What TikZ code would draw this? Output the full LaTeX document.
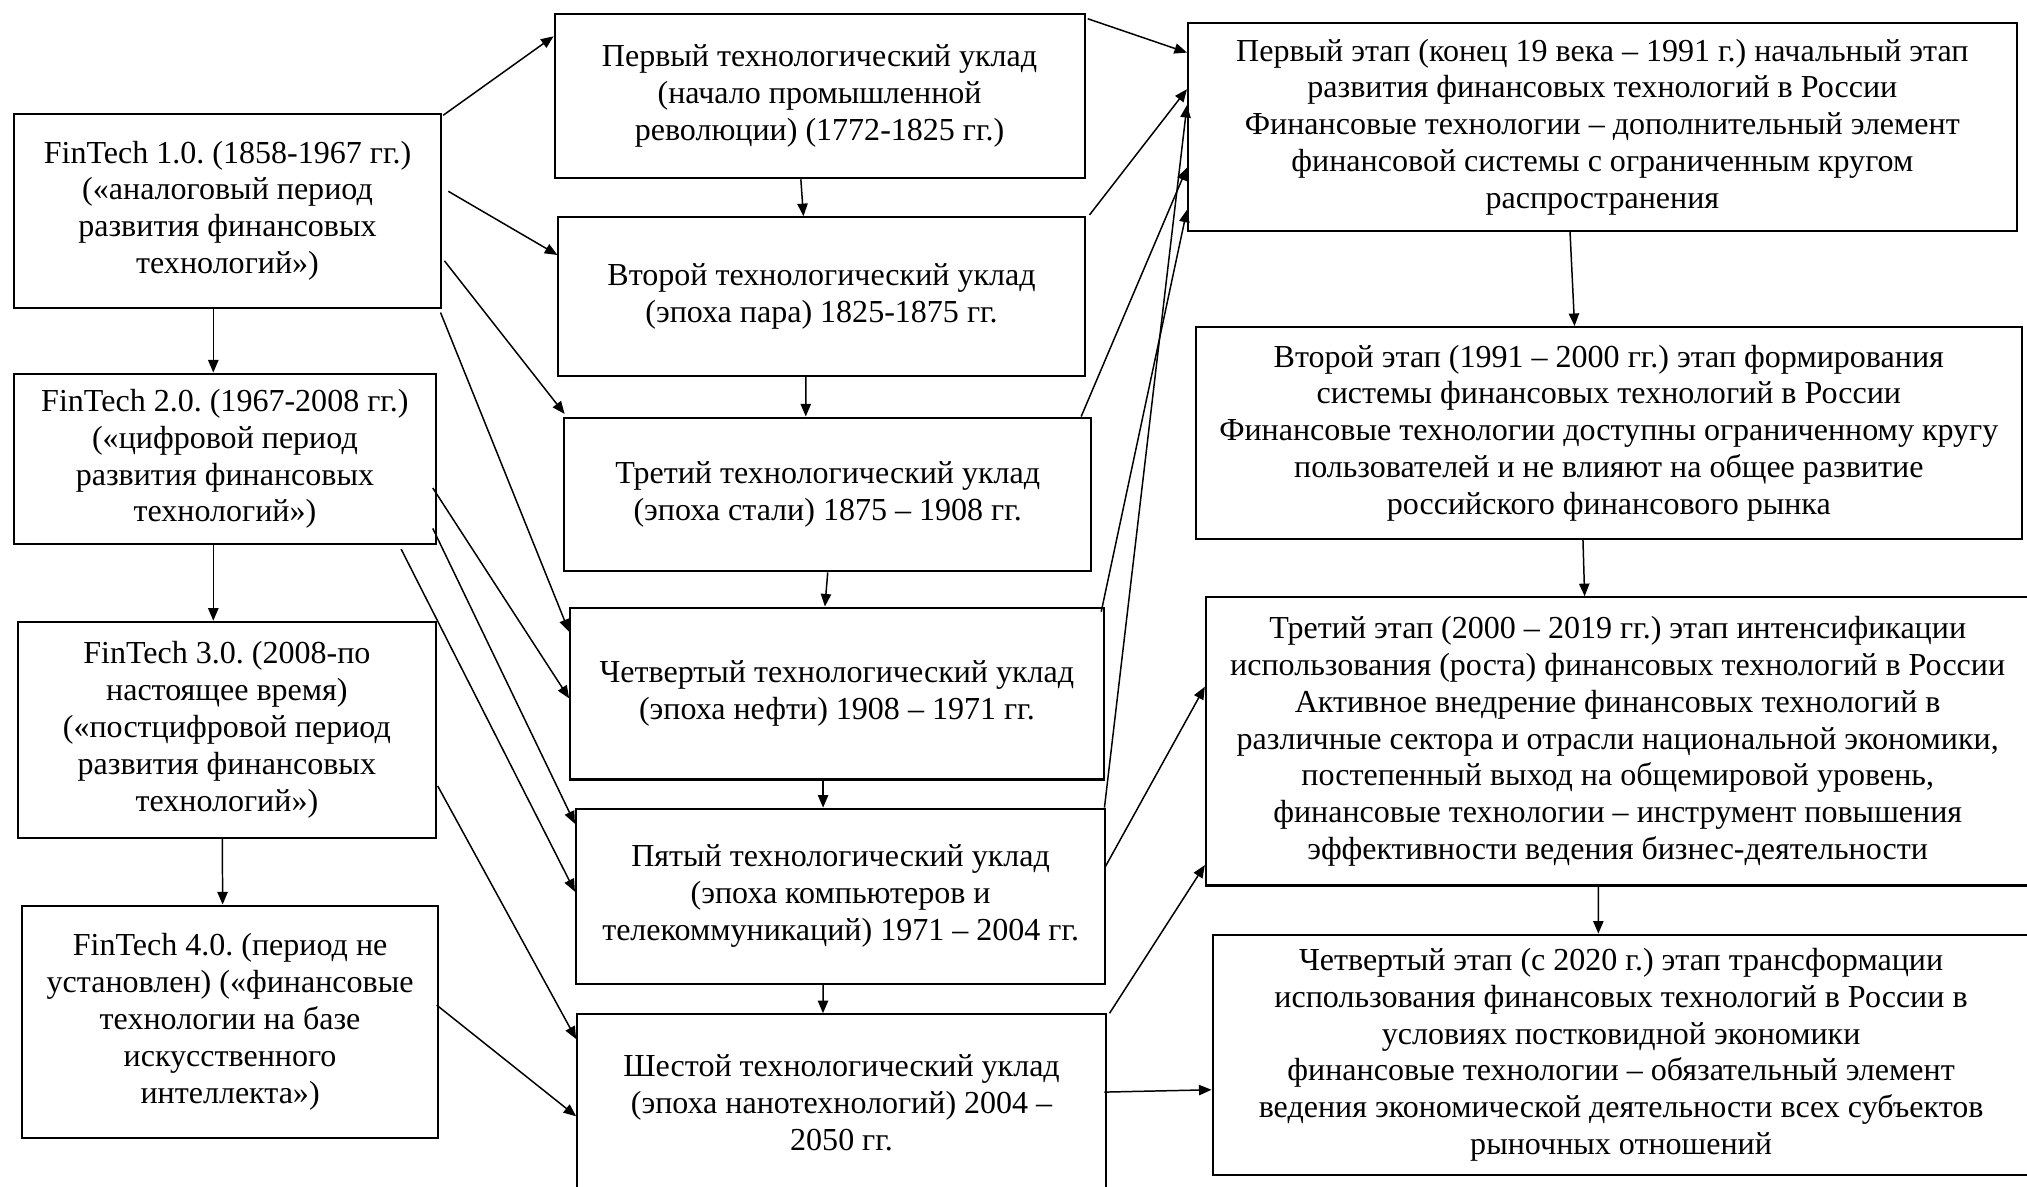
\documentclass[tikz,border=0pt]{standalone}
\usepackage{fontspec}
\setmainfont{Liberation Serif}
\usetikzlibrary{arrows.meta}
\frenchspacing

\newcommand{\pxu}{0.565pt}

\begin{document}
\begin{tikzpicture}[x=\pxu, y=-\pxu,
  blk/.style 2 args={draw, line width=0.9pt, inner sep=0pt, align=center,
    minimum width=#1*\pxu, minimum height=#2*\pxu,
    font=\fontsize{14}{16.1}\selectfont},
  arr/.style={-{Triangle[length=5.5pt,width=4.5pt]}, line width=0.65pt}]

\useasboundingbox (0,0) rectangle (1568,918);
\fill[white] (0,0) rectangle (1568,918);

\begin{scope}
\clip (0,0) rectangle (1568,918);

%% FinTech periods
\node[blk={330}{150}] (ft1) at (176,163) {FinTech 1.0. (1858-1967 гг.)\\(«аналоговый период\\развития финансовых\\технологий»)};
\node[blk={326}{132}] (ft2) at (174,355) {FinTech 2.0. (1967-2008 гг.)\\(«цифровой период\\развития финансовых\\технологий»)};
\node[blk={323}{167}] (ft3) at (175.5,564.5) {FinTech 3.0. (2008-по\\настоящее время)\\(«постцифровой период\\развития финансовых\\технологий»)};
\node[blk={322}{180}] (ft4) at (178,790.5) {FinTech 4.0. (период не\\установлен) («финансовые\\технологии на базе\\искусственного\\интеллекта»)};

%% technological modes
\node[blk={410}{127}] (u1) at (634,74.4) {Первый технологический уклад\\(начало промышленной\\революции) (1772-1825 гг.)};
\node[blk={407}{122.5}] (u2) at (635.5,229.3) {Второй технологический уклад\\(эпоха пара) 1825-1875 гг.};
\node[blk={407.5}{119}] (u3) at (640.3,382.5) {Третий технологический уклад\\(эпоха стали) 1875 – 1908 гг.};
\node[blk={412.7}{133}] (u4) at (647.4,536.5) {Четвертый технологический уклад\\(эпоха нефти) 1908 – 1971 гг.};
\node[blk={409.5}{135.5}] (u5) at (650.3,693.3) {Пятый технологический уклад\\(эпоха компьютеров и\\телекоммуникаций) 1971 – 2004 гг.};
\node[blk={409}{136.4}] (u6) at (651,852.8) {Шестой технологический уклад\\(эпоха нанотехнологий) 2004 –\\2050 гг.};

%% stages in Russia
\node[blk={641}{160.6}] (s1) at (1239.5,98.3) {Первый этап (конец 19 века – 1991 г.) начальный этап\\развития финансовых технологий в России\\Финансовые технологии – дополнительный элемент\\финансовой системы с ограниченным кругом\\распространения};
\node[blk={639}{164}] (s2) at (1244.5,335) {Второй этап (1991 – 2000 гг.) этап формирования\\системы финансовых технологий в России\\Финансовые технологии доступны ограниченному кругу\\пользователей и не влияют на общее развитие\\российского финансового рынка};
\node[blk={637.2}{223}] (s3) at (1251.4,573.5) {Третий этап (2000 – 2019 гг.) этап интенсификации\\использования (роста) финансовых технологий в России\\Активное внедрение финансовых технологий в\\различные сектора и отрасли национальной экономики,\\постепенный выход на общемировой уровень,\\финансовые технологии – инструмент повышения\\эффективности ведения бизнес-деятельности};
\node[blk={632}{186}] (s4) at (1254,816) {Четвертый этап (с 2020 г.) этап трансформации\\использования финансовых технологий в России в\\условиях постковидной экономики\\финансовые технологии – обязательный элемент\\ведения экономической деятельности всех субъектов\\рыночных отношений};

% down arrows
\draw[arr] ([shift={(-11,0)}]ft1.south) -- ([shift={(-9,0)}]ft2.north);
\draw[arr] ([shift={(-9,0)}]ft2.south) -- ([shift={(-10.5,0)}]ft3.north);
\draw[arr] ([shift={(-3.5,0)}]ft3.south) -- ([shift={(-5.8,0)}]ft4.north);
\draw[arr] ([shift={(-14.5,0)}]u1.south) -- ([shift={(-14,0)}]u2.north);
\draw[arr] ([shift={(-12.2,0)}]u2.south) -- ([shift={(-17,0)}]u3.north);
\draw[arr] (u3.south) -- ([shift={(-9.3,0)}]u4.north);
\draw[arr] ([shift={(-10.7,0)}]u4.south) -- ([shift={(-13.6,0)}]u5.north);
\draw[arr] ([shift={(-13.6,0)}]u5.south) -- ([shift={(-14.4,0)}]u6.north);
\draw[arr] ([shift={(-25,0)}]s1.south) -- ([shift={(-26.5,0)}]s2.north);
\draw[arr] ([shift={(-20,0)}]s2.south) -- ([shift={(-25.6,0)}]s3.north);
\draw[arr] ([shift={(-15,0)}]s3.south) -- ([shift={(-17.6,0)}]s4.north);

% FinTech -> modes
\draw[arr] ([shift={(1,2)}]ft1.north east) -- ([shift={(0,18)}]u1.north west);
\draw[arr] ([shift={(5,-15)}]ft1.east) -- ([shift={(0,30)}]u2.north west);
\draw[arr] ([shift={(2,-37)}]ft1.south east) -- ([shift={(1,-2)}]u3.north west);
\draw[arr] ([shift={(-1,3)}]ft1.south east) -- ([shift={(0,19.6)}]u4.north west);
\draw[arr] ([shift={(-3,22.5)}]ft2.east) -- ([shift={(0,71)}]u4.north west);
\draw[arr] ([shift={(-3,-13)}]ft2.south east) -- ([shift={(0,12.5)}]u5.north west);
\draw[arr] ([shift={(-27.5,3)}]ft2.south east) -- ([shift={(0,65)}]u5.north west);
\draw[arr] ([shift={(0.8,43.5)}]ft3.east) -- ([shift={(0,20)}]u6.north west);
\draw[arr] ([shift={(-2,-13)}]ft4.east) -- ([shift={(0,79.7)}]u6.north west);

% modes -> stages
\draw[arr] ([shift={(1.6,4.4)}]u1.north east) -- ([shift={(0,23.5)}]s1.north west);
\draw[arr] ([shift={(3,-1)}]u2.north east) -- ([shift={(0,51.8)}]s1.north west);
\draw[arr] ([shift={(-8.5,0)}]u3.north east) -- ([shift={(0,112.5)}]s1.north west);
\draw[arr] ([shift={(-2.7,4)}]u4.north east) -- ([shift={(0,145)}]s1.north west);
\draw[arr] ([shift={(-1.5,0)}]u5.north east) -- ([shift={(0,64)}]s1.north west);
\draw[arr] ([shift={(-1.3,-22)}]u5.east) -- ([shift={(0,70)}]s3.north west);
\draw[arr] ([shift={(2,0)}]u6.north east) -- ([shift={(0,208)}]s3.north west);
\draw[arr] ([shift={(-2,-8)}]u6.east) -- ([shift={(0,27)}]s4.west);

\end{scope}
\end{tikzpicture}
\end{document}
